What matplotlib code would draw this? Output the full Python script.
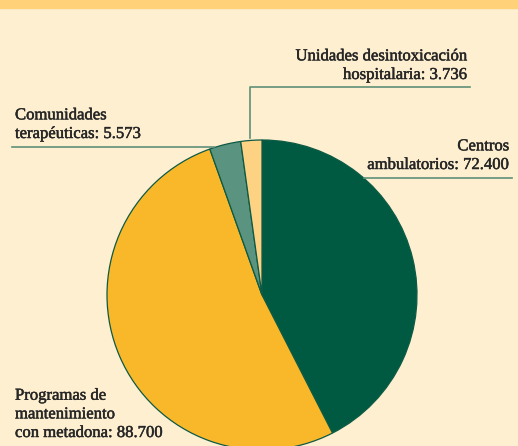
import matplotlib.pyplot as plt
import matplotlib.patheffects as pe

# data
labels = ["Centros\nambulatorios", "Programas de\nmantenimiento\ncon metadona",
          "Comunidades\nterapéuticas", "Unidades desintoxicación\nhospitalaria"]
values = [72400, 88700, 5573, 3736]
colors = ["#005a42", "#f9b82a", "#5a9380", "#fed283"]

W, H = 518, 446
bg = "#fdefd0"

fig = plt.figure(figsize=(W / 100, H / 100), dpi=100, facecolor=bg)
ax = fig.add_axes([0, 0, 1, 1])
ax.set_facecolor(bg)

# top band
ax.axhspan(H - 8, H, color="#ffd27a", zorder=0)

# pie (pixel coords, y flipped)
cx, cy, r = 262, H - 295, 155
ax.pie(values, colors=colors, startangle=90, counterclock=False,
       center=(cx, cy), radius=r, frame=True,
       wedgeprops=dict(edgecolor="#0d5a44", linewidth=0.9))
ax.set_xlim(0, W)
ax.set_ylim(0, H)
ax.set_aspect("equal")
ax.axis("off")

def fmt(v):
    return f"{v:,}".replace(",", ".")

txt = dict(fontsize=12, color="#262626", family="Liberation Serif",
           linespacing=1.22,
           path_effects=[pe.withStroke(linewidth=0.35, foreground="#262626")])
line = dict(color="#5f8f78", lw=1.2)

# leader lines
ax.plot([250, 250, 470], [H - 138, H - 87, H - 87], **line)
ax.plot([12, 214], [H - 147, H - 147], **line)
ax.plot([364, 512], [H - 178, H - 178], **line)

ax.text(467, H - 83, labels[3] + ": " + fmt(values[3]), ha="right", va="bottom", multialignment="right", **txt)
ax.text(15, H - 142, labels[2] + ": " + fmt(values[2]), ha="left", va="bottom", **txt)
ax.text(509, H - 173, labels[0] + ": " + fmt(values[0]), ha="right", va="bottom", multialignment="right", **txt)
ax.text(15, H - 441, labels[1] + ": " + fmt(values[1]), ha="left", va="bottom", **txt)

fig.savefig("out.png", dpi=100, facecolor=bg)
